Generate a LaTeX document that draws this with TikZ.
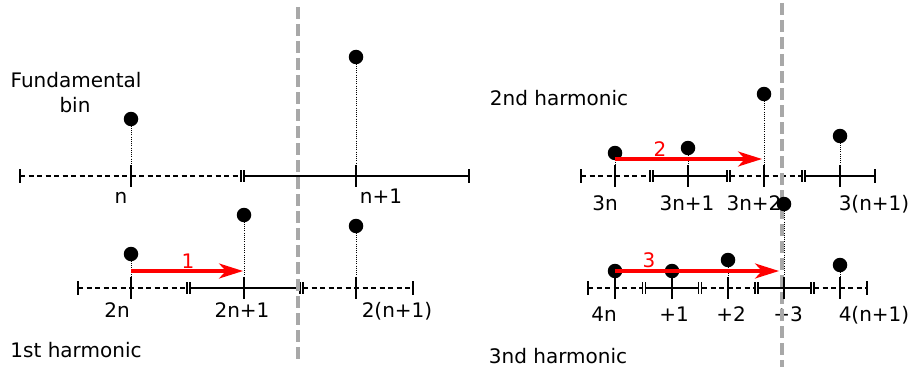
\documentclass[tikz,border=0pt]{standalone}
\usepackage{fontspec}
\setmainfont{DejaVu Sans}
\usetikzlibrary{arrows.meta}
\definecolor{vgray}{HTML}{A8A8A8}
\tikzset{
 axis/.style={line width=2pt, line cap=butt},
 dsh/.style={axis, dash pattern=on 5pt off 3.5pt},
 tk/.style={line width=2.2pt},
 stem/.style={line width=1pt, dash pattern=on 1pt off 1.2pt},
 dot/.style={circle, fill=black, inner sep=0pt, minimum size=14.5pt},
 lbl/.style={anchor=base, inner sep=0pt, font=\fontsize{20}{23}\selectfont},
 rlbl/.style={lbl, text=red},
 sepline/.style={draw=vgray, line width=4pt, dash pattern=on 12pt off 5pt},
 shiftarrow/.style={draw=red, line width=3.2pt, -{Stealth[length=24pt, width=15pt, inset=7pt]}}
}
% centre tick, end tick, double boundary tick
\newcommand{\ctick}[2]{\draw[tk] (#1,#2-11) -- (#1,#2+11);}
\newcommand{\etick}[2]{\draw[tk] (#1,#2-7) -- (#1,#2+7);}
\newcommand{\dtick}[2]{\draw[line width=1.5pt] (#1-1.7,#2-6) -- (#1-1.7,#2+6) (#1+1.7,#2-6) -- (#1+1.7,#2+6);}
\begin{document}
\begin{tikzpicture}[x=1pt,y=-1pt]
\useasboundingbox (0,0) rectangle (915,369);

% ---------- axes ----------
% fundamental
\draw[dsh] (20,176) -- (241,176);
\draw[axis] (244,176) -- (469,176);
\etick{20}{176} \etick{469}{176} \dtick{242.5}{176}
% 1st harmonic
\draw[dsh] (78,288) -- (187,288);
\draw[axis] (190,288) -- (299,288);
\draw[dsh] (303,288) -- (413,288);
\etick{78}{288} \etick{413}{288} \dtick{188.5}{288} \dtick{301.5}{288}
% 2nd harmonic
\draw[dsh] (581,176) -- (650,176);
\draw[axis] (653,176) -- (727,176);
\draw[dsh] (730,176) -- (802,176);
\draw[axis] (805,176) -- (875,176);
\etick{581}{176} \etick{875}{176} \dtick{651.5}{176} \dtick{728.5}{176} \dtick{803.5}{176}
% 3rd harmonic
\draw[dsh] (588,288) -- (642,288);
\draw[axis] (646,288) -- (698,288);
\draw[dsh] (702,288) -- (755,288);
\draw[axis] (758,288) -- (811,288);
\draw[dsh] (814,288) -- (867,288);
\etick{588}{288} \etick{867}{288} \dtick{644}{288} \dtick{700}{288} \dtick{756.5}{288} \dtick{812.5}{288}

% ---------- labels ----------
\node[lbl] (tfund) at (76,88) {Fundamental};
\node[lbl] (tbin) at (75,112) {bin};
\node[lbl] (t1st) at (76,357) {1st harmonic};
\node[lbl] (t2nd) at (559,105) {2nd harmonic};
\node[lbl] (t3nd) at (558,363) {3nd harmonic};

\node[lbl] (ln) at (121,203) {n};
\node[lbl] (ln1) at (381,203) {n+1};
\node[lbl] (l2n) at (117,317) {2n};
\node[lbl] (l2n1) at (242,317) {2n+1};
\node[lbl] (l2n2) at (397,317) {2(n+1)};
\node[lbl] (l3n) at (605,210) {3n};
\node[lbl] (l3n1) at (687,210) {3n+1};
\node[lbl] (l3n2) at (754,210) {3n+2};
\node[lbl] (l3n3) at (874,210) {3(n+1)};
\node[lbl] (l4n) at (604,321) {4n};
\node[lbl] (l4n1) at (674,321) {+1};
\node[lbl] (l4n2) at (731,321) {+2};
\node[lbl] (l4n3) at (788,321) {+3};
\node[lbl] (l4n4) at (874,321) {4(n+1)};

% ---------- separators ----------
\draw[sepline] (298,7) -- (298,363);
\draw[sepline] (782,3) -- (782,367);

% ---------- centre ticks ----------
\foreach \x in {131,356} {\ctick{\x}{176}}
\foreach \x in {131,244,356} {\ctick{\x}{288}}
\foreach \x in {615,688,764,840} {\ctick{\x}{176}}
\foreach \x in {615,672,728,784,840} {\ctick{\x}{288}}

% ---------- tick coordinates ----------
\coordinate (fa) at (131,176); \coordinate (fb) at (356,176);
\coordinate (ha) at (131,288); \coordinate (hb) at (244,288); \coordinate (hc) at (356,288);
\coordinate (sa) at (615,176); \coordinate (sb) at (688,176); \coordinate (sc) at (764,176); \coordinate (sd) at (840,176);
\coordinate (ta) at (615,288); \coordinate (tb) at (672,288); \coordinate (tc) at (728,288); \coordinate (td) at (784,288); \coordinate (te) at (840,288);

% ---------- dots ----------
\node[dot] (dfa) at (131,119) {};
\node[dot] (dfb) at (356,57) {};
\node[dot] (dha) at (131,254) {};
\node[dot] (dhb) at (244,215) {};
\node[dot] (dhc) at (356,226) {};
\node[dot] (dsa) at (615,153) {};
\node[dot] (dsb) at (688,148) {};
\node[dot] (dsc) at (764,94) {};
\node[dot] (dsd) at (840,136) {};
\node[dot] (dta) at (615,271) {};
\node[dot] (dtb) at (672,271) {};
\node[dot] (dtc) at (728,260) {};
\node[dot] (dtd) at (784,204) {};
\node[dot] (dte) at (840,265) {};

% ---------- stems ----------
\foreach \d/\t in {dfa/fa,dfb/fb,dha/ha,dhb/hb,dhc/hc,dsa/sa,dsb/sb,dsc/sc,dsd/sd,dta/ta,dtb/tb,dtc/tc,dtd/td,dte/te}
  {\draw[stem] (\d.center) -- (\t);}

% ---------- shift arrows ----------
\coordinate (a1s) at (131,271); \coordinate (a1e) at (243,271);
\coordinate (a2s) at (615,159); \coordinate (a2e) at (762,159);
\coordinate (a3s) at (615,271); \coordinate (a3e) at (779,271);
\draw[shiftarrow] (a1s) -- (a1e);
\draw[shiftarrow] (a2s) -- (a2e);
\draw[shiftarrow] (a3s) -- (a3e);
\node[rlbl] (n1) at (188,268) {1};
\node[rlbl] (n2) at (660,156) {2};
\node[rlbl] (n3) at (649,267) {3};
\end{tikzpicture}
\end{document}
